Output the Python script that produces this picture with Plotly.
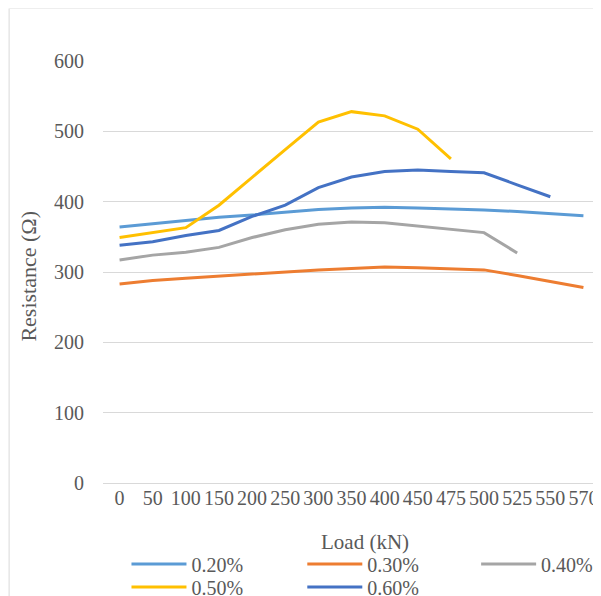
import plotly.graph_objects as go

loads = ["0", "50", "100", "150", "200", "250", "300", "350", "400", "450", "475", "500", "525", "550", "570"]
r_020 = [364, 369, 373, 378, 381, 385, 389, 391, 392, 391, 390, 388, 386, 383, 380]
r_030 = [283, 288, 291, 294, 298, 300, 303, 305, 307, 306, 305, 303, 295, 286, 278]
r_040 = [317, 324, 328, 335, 349, 360, 368, 371, 370, 365, 360, 356, 327, None, None]
r_050 = [349, 356, 363, 395, 435, 474, 513, 528, 522, 503, 461, None, None, None, None]
r_060 = [338, 343, 352, 359, 379, 395, 420, 435, 443, 445, 443, 441, 424, 407, None]

series = [
    ("0.20%", r_020, "#5B9BD5"),
    ("0.30%", r_030, "#ED7D31"),
    ("0.40%", r_040, "#A5A5A5"),
    ("0.50%", r_050, "#FFC000"),
    ("0.60%", r_060, "#4472C4"),
]

FONT = "Liberation Serif, Times New Roman, serif"
TXT = "#595959"

# page body has an 8px margin; work in page pixels and convert
OFF = 8
W, H = 593, 588
PL, PR, PT, PB = 102.5, 600, 61, 483  # plot area in page pixels
L = PL - OFF
T = PT - OFF
R = W - (PR - OFF)
B = H - (PB - OFF)
pw = W - L - R
ph = H - T - B


def px(x):
    return (x - OFF - L) / pw


def py(y):
    return (H - B - (y - OFF)) / ph


# legend entry positions (page pixels): line start x, row centre y
leg_pos = [(130, 564), (306, 564), (480, 564), (130, 587), (306, 587)]

fig = go.Figure()
legends = {}
for i, (name, vals, col) in enumerate(series):
    key = "legend" if i == 0 else f"legend{i + 1}"
    fig.add_trace(go.Scatter(x=loads, y=vals, name=name, mode="lines",
                             line=dict(color=col, width=3), connectgaps=False,
                             legend=key))
    lx, ly = leg_pos[i]
    legends[key] = dict(orientation="h", x=px(lx - 4), y=py(ly), xanchor="left",
                        yanchor="middle", itemwidth=55, borderwidth=0,
                        font=dict(family=FONT, size=20, color=TXT),
                        bgcolor="rgba(0,0,0,0)")

fig.update_layout(
    width=W, height=H,
    margin=dict(l=L, r=R, t=T, b=B, autoexpand=False),
    paper_bgcolor="white", plot_bgcolor="white",
    font=dict(family=FONT, size=20, color=TXT),
    showlegend=True,
    xaxis=dict(type="category", range=[-0.5, 14.5], showgrid=False, zeroline=False,
               showline=False, ticks="", tickfont=dict(family=FONT, size=20, color=TXT),
               ticklabelstandoff=1, fixedrange=True),
    yaxis=dict(range=[0, 600], dtick=100, showgrid=True, gridcolor="#D9D9D9", gridwidth=1,
               zeroline=True, zerolinecolor="#D9D9D9", zerolinewidth=1, showline=False,
               ticks="", tickfont=dict(family=FONT, size=20, color=TXT),
               ticklabelstandoff=18, fixedrange=True),
    annotations=[
        dict(text="Load (kN)", xref="paper", yref="paper", x=px(365), y=py(542),
             xanchor="center", yanchor="middle", showarrow=False,
             font=dict(family=FONT, size=21, color=TXT)),
        dict(text="Resistance (Ω)", xref="paper", yref="paper", x=px(27), y=py(276),
             xanchor="center", yanchor="middle", showarrow=False, textangle=-90,
             font=dict(family=FONT, size=22, color=TXT)),
    ],
    shapes=[
        dict(type="line", xref="paper", yref="paper", x0=px(8.5), x1=px(8.5), y0=py(600), y1=py(8.5),
             line=dict(color="#D9D9D9", width=1)),
        dict(type="line", xref="paper", yref="paper", x0=px(8.5), x1=px(610), y0=py(8.5), y1=py(8.5),
             line=dict(color="#EEEEEE", width=1)),
    ],
    **legends,
)

fig.write_html("out.html")
